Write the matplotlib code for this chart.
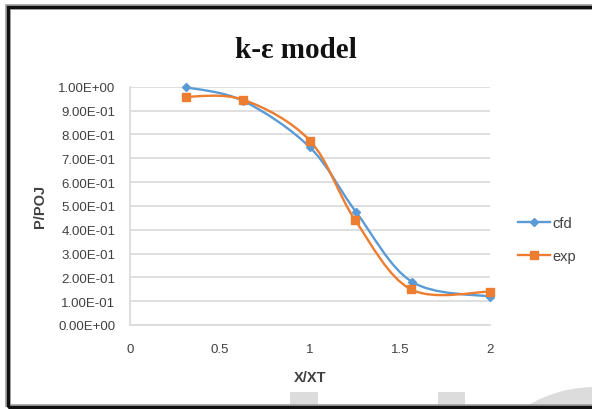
import numpy as np
import matplotlib
matplotlib.use("Agg")
import matplotlib.pyplot as plt
from matplotlib.path import Path
from matplotlib.patches import PathPatch, Rectangle, Ellipse
from matplotlib.lines import Line2D

# ---- data ----
x_cfd = [0.31, 0.63, 1.00, 1.255, 1.565, 2.00]
y_cfd = [0.998, 0.940, 0.745, 0.475, 0.182, 0.119]
x_exp = [0.31, 0.63, 1.00, 1.25, 1.56, 2.00]
y_exp = [0.958, 0.945, 0.773, 0.441, 0.150, 0.140]
series_names = ["cfd", "exp"]
title_text = "k-\u03b5 model"
x_ticks = [0, 0.5, 1, 1.5, 2]
y_ticks = [i / 10 for i in range(11)]
y_ticklabels = ["%.2fE+00" % 0 if v == 0 else ("1.00E+00" if v == 1 else "%.2fE-01" % (v * 10)) for v in y_ticks]

W, H = 592, 410
fig = plt.figure(figsize=(W / 100, H / 100), dpi=100)
fig.patch.set_facecolor("white")

def fx(px):
    return px / W

def fy(py):
    return 1 - py / H

# watermark-like gray shapes at bottom
for x0, x1 in [(290, 318), (438, 465)]:
    fig.patches.append(Rectangle((fx(x0), fy(409)), fx(x1 - x0), (409 - 393) / H,
                                 transform=fig.transFigure, facecolor="#dcdcdc",
                                 edgecolor="none", zorder=0))
r = 132
fig.patches.append(Ellipse((fx(595), fy(520)), 2 * r / W, 2 * r / H,
                           transform=fig.transFigure, facecolor="#dcdcdc",
                           edgecolor="none", zorder=0))

# outer frame
for lw, col in [(4.0, "#9a9a9a"), (2.3, "#111111")]:
    fig.patches.append(Rectangle((fx(7.5), fy(407.5)), fx(620 - 7.5), (407.5 - 7.5) / H,
                                 transform=fig.transFigure, facecolor="none",
                                 edgecolor=col, linewidth=lw, zorder=5))

ax = fig.add_axes([fx(130), fy(326), fx(490 - 130), (326 - 87.7) / H])
ax.set_facecolor("none")
ax.set_xlim(0, 2)
ax.set_ylim(0, 1.0)

grid_col = "#d9d9d9"
ax.set_yticks(y_ticks)
ax.set_yticklabels(y_ticklabels)
ax.set_xticks(x_ticks)
ax.set_xticklabels(["0", "0.5", "1", "1.5", "2"])
ax.yaxis.grid(True, color=grid_col, linewidth=1.2)
ax.set_axisbelow(True)
for s in ["top", "right"]:
    ax.spines[s].set_visible(False)
for s in ["left", "bottom"]:
    ax.spines[s].set_color(grid_col)
    ax.spines[s].set_linewidth(1.2)
ax.tick_params(length=0)

tick_font = ["Liberation Sans Narrow", "Liberation Sans", "DejaVu Sans"]
for lab in ax.get_yticklabels():
    lab.set_fontfamily(tick_font)
    lab.set_fontsize(9.5)
    lab.set_color("#404040")
for lab in ax.get_xticklabels():
    lab.set_fontfamily(tick_font)
    lab.set_fontsize(9.5)
    lab.set_color("#404040")
ax.tick_params(axis="y", pad=10.5)
ax.tick_params(axis="x", pad=13)


def smooth_path(xs, ys):
    pts = np.column_stack([xs, ys]).astype(float)
    n = len(pts)
    verts = [pts[0]]
    codes = [Path.MOVETO]
    for i in range(n - 1):
        p0 = pts[i - 1] if i > 0 else pts[i]
        p1 = pts[i]
        p2 = pts[i + 1]
        p3 = pts[i + 2] if i + 2 < n else pts[i + 1]
        c1 = p1 + (p2 - p0) / 6.0
        c2 = p2 - (p3 - p1) / 6.0
        verts += [c1, c2, p2]
        codes += [Path.CURVE4] * 3
    return Path(verts, codes)

blue = "#5B9BD5"
orange = "#ED7D31"
lw = 1.7
ax.add_patch(PathPatch(smooth_path(x_cfd, y_cfd), facecolor="none", edgecolor=blue,
                       linewidth=lw, zorder=3, clip_on=False, capstyle="round"))
ax.add_patch(PathPatch(smooth_path(x_exp, y_exp), facecolor="none", edgecolor=orange,
                       linewidth=lw, zorder=4, clip_on=False, capstyle="round"))
ax.plot(x_cfd, y_cfd, ls="none", marker="D", markersize=3.6, color=blue, zorder=3, clip_on=False)
ax.plot(x_exp, y_exp, ls="none", marker="s", markersize=5.8, color=orange, zorder=4, clip_on=False)

handles = [Line2D([], [], color=blue, lw=lw, marker="D", markersize=3.6),
           Line2D([], [], color=orange, lw=lw, marker="s", markersize=5.8)]
leg = fig.legend(handles, series_names, loc="upper left",
                 bbox_to_anchor=(fx(518), fy(217)), frameon=False,
                 prop={"family": tick_font, "size": 10.5},
                 handlelength=2.2, handletextpad=0.15, labelspacing=1.3,
                 borderpad=0, borderaxespad=0)
for t in leg.get_texts():
    t.set_color("#404040")

fig.text(fx(296), fy(58.5), title_text, ha="center", va="baseline",
         fontfamily=["Liberation Serif", "DejaVu Serif"], fontweight="bold",
         fontsize=21, color="#111111")
fig.text(fx(40), fy(206), "P/POJ", rotation=90, ha="center", va="center",
         fontfamily=tick_font, fontweight="bold", fontsize=10.5, color="#404040")
fig.text(fx(310), fy(378), "X/XT", ha="center", va="center",
         fontfamily=tick_font, fontweight="bold", fontsize=10.5, color="#404040")

fig.savefig("out.png", dpi=100)
